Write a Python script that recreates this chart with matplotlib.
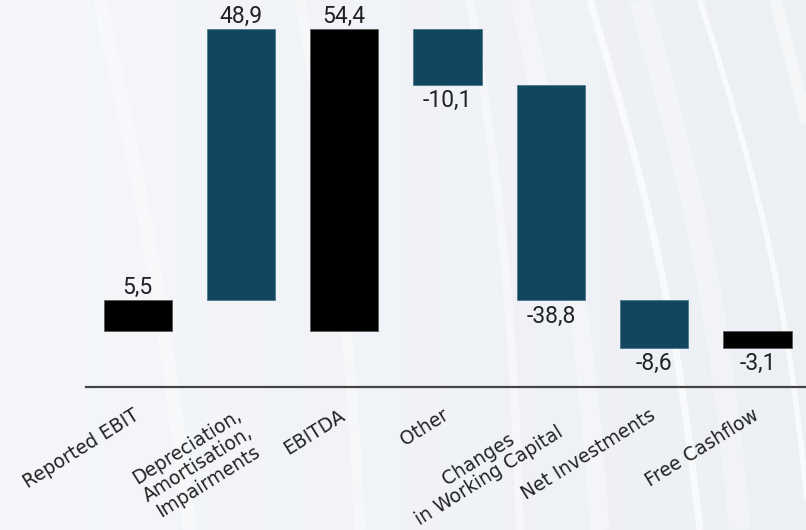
import matplotlib
matplotlib.use("Agg")
import matplotlib.pyplot as plt
import matplotlib.transforms as mtransforms
import numpy as np

# --------------------------------------------------------------------------- #
# Data
# --------------------------------------------------------------------------- #
categories = [
    "Reported EBIT",
    "Depreciation,\nAmortisation,\nImpairments",
    "EBITDA",
    "Other",
    "Changes\nin Working Capital",
    "Net Investments",
    "Free Cashflow",
]
values = [5.5, 48.9, 54.4, -10.1, -38.8, -8.6, -3.1]
value_labels = ["5,5", "48,9", "54,4", "-10,1", "-38,8", "-8,6", "-3,1"]
is_total = [True, False, True, False, False, False, True]

TOTAL_COLOR = "#000000"
STEP_COLOR = "#12455e"
BG_COLOR = "#eef1f5"


def waterfall_bottoms(vals, totals):
    """Start of each bar: totals start at zero, steps at the running sum."""
    bottoms = []
    running = 0.0
    for v, t in zip(vals, totals):
        if t:
            bottoms.append(0.0)
            running = v
        else:
            bottoms.append(running)
            running += v
    return bottoms


fig = plt.figure(figsize=(8.06, 5.30), dpi=100)
fig.patch.set_facecolor(BG_COLOR)

# --- decorative background: soft light gradient + faint white streaks ---
bg = fig.add_axes([0, 0, 1, 1], zorder=0)
bg.set_xlim(0, 806)
bg.set_ylim(530, 0)
bg.axis("off")
bg_cmap = matplotlib.colors.LinearSegmentedColormap.from_list("bgc", ["#f5f7fa", "#eceff4"])
bg.imshow(np.linspace(0.0, 1.0, 256)[None, :], extent=[0, 806, 530, 0], aspect="auto", cmap=bg_cmap)
t = np.linspace(0, 1, 200)
for x0, dx, bend, alpha, lw in [(100, 90, 8, 0.35, 10), (300, 60, 10, 0.35, 8),
                                (470, 50, 10, 0.45, 6), (520, 80, 12, 0.35, 14),
                                (590, 110, 15, 0.7, 5), (640, 100, 15, 0.3, 16),
                                (700, 110, 18, 0.7, 4), (775, 80, 20, 0.45, 9)]:
    ys = 530 * t
    xs = x0 + dx * t + bend * np.sin(np.pi * t)
    bg.plot(xs, ys, color="white", alpha=alpha, lw=lw, solid_capstyle="butt")

ax = fig.add_axes([86 / 806, 1 - 387 / 530, 720 / 806, 387 / 530], zorder=1)
ax.patch.set_alpha(0)

x = np.arange(len(categories))
bottoms = waterfall_bottoms(values, is_total)
colors = [TOTAL_COLOR if t else STEP_COLOR for t in is_total]
edges = ["#5a5a5a" if t else "#4d7891" for t in is_total]
ax.bar(x, values, bottom=bottoms, width=0.66, color=colors, edgecolor=edges, linewidth=0.6)

label_font = ["Roboto", "DejaVu Sans"]
for xi, v, b, lbl in zip(x, values, bottoms, value_labels):
    if v >= 0:
        ax.annotate(lbl, (xi, b + v), xytext=(0, 1), textcoords="offset points",
                    ha="center", va="bottom", fontsize=16.5, color="#222222", family=label_font)
    else:
        ax.annotate(lbl, (xi, b + v), xytext=(0, -3), textcoords="offset points",
                    ha="center", va="top", fontsize=16.5, color="#222222", family=label_font)

ax.set_xlim(-0.5, 6.47)
ax.set_ylim(-10.09, 59.63)
for side in ["top", "right", "left"]:
    ax.spines[side].set_visible(False)
ax.spines["bottom"].set_color("#444444")
ax.spines["bottom"].set_linewidth(1.6)
ax.set_yticks([])
ax.set_xticks(x)
ax.set_xticklabels(categories, rotation=32, ha="right", va="top", rotation_mode="anchor",
                   multialignment="center", fontsize=13.4, color="#222222",
                   family="DejaVu Sans", linespacing=1.08)
ax.tick_params(axis="x", length=0, pad=13.5)
# nudge labels slightly left so their upper ends sit under the bar centres
shift = mtransforms.ScaledTranslation(-4 / 72, 0, fig.dpi_scale_trans)
for lbl in ax.get_xticklabels():
    lbl.set_transform(lbl.get_transform() + shift)

fig.savefig("out.png", dpi=100, facecolor=fig.get_facecolor())
